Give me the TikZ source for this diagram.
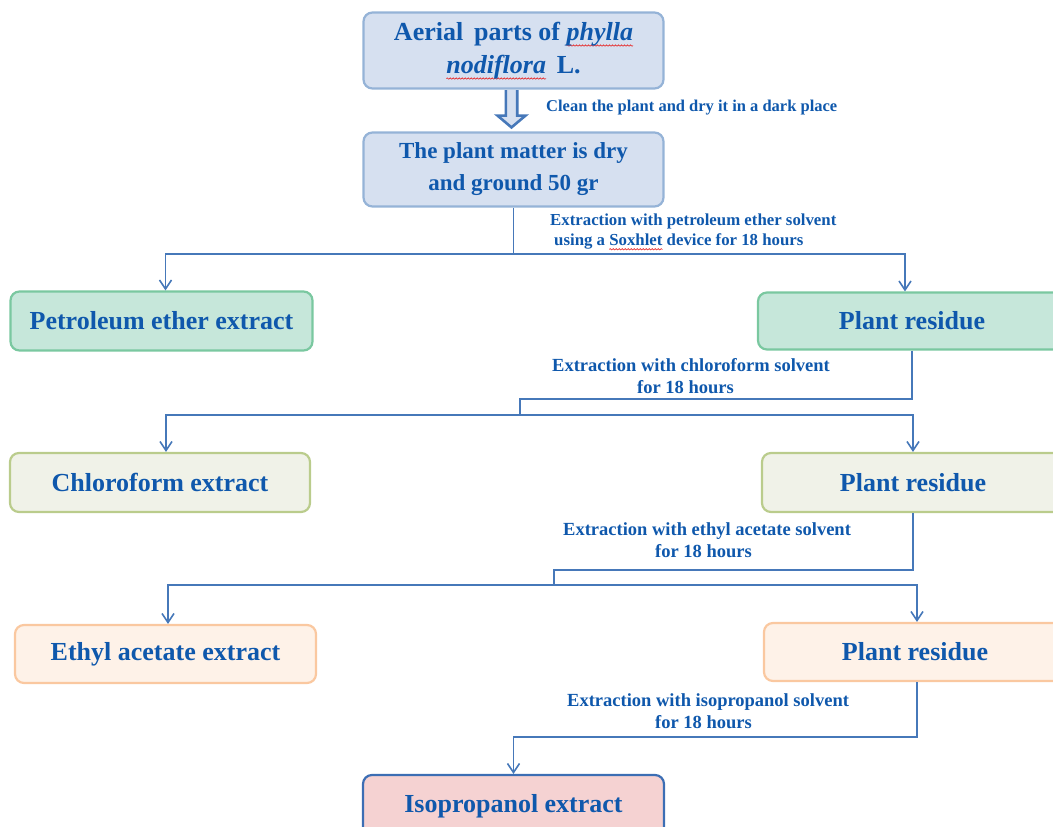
\documentclass[tikz,border=0pt]{standalone}
\usepackage{fontspec}
\setmainfont{Liberation Serif}
\usetikzlibrary{arrows.meta,calc,decorations.pathmorphing}
\definecolor{txt}{RGB}{15,88,172}
\definecolor{ln}{RGB}{70,120,185}
\definecolor{blueF}{RGB}{214,224,240}
\definecolor{blueD}{RGB}{149,179,215}
\definecolor{grnF}{RGB}{198,231,218}
\definecolor{grnD}{RGB}{122,200,160}
\definecolor{olvF}{RGB}{240,242,232}
\definecolor{olvD}{RGB}{186,204,140}
\definecolor{orgF}{RGB}{254,242,232}
\definecolor{orgD}{RGB}{250,200,160}
\definecolor{redF}{RGB}{245,210,210}
\definecolor{redD}{RGB}{60,110,180}
\definecolor{spellred}{RGB}{230,40,40}
\newsavebox\spellbox
\newcommand\spell[1]{\sbox\spellbox{#1}\tikz[overlay,baseline=0pt,sharp corners]\draw[spellred,line width=0.6pt,sharp corners,decorate,decoration={snake,amplitude=0.7pt,segment length=3pt}] (0pt,-0.2em) -- (\wd\spellbox,-0.2em);\usebox\spellbox}
\begin{document}
\begin{tikzpicture}[x=1pt,y=-1pt,
  box/.style={draw, rounded corners=9pt, line width=2.2pt, text=txt, inner sep=0pt, align=center},
  bigtxt/.style={font=\bfseries\fontsize{26}{28}\selectfont},
  lbl/.style={text=txt, inner sep=0pt, anchor=west, align=left},
  line/.style={draw=ln, line width=1.9pt},
  arr/.style={line, -{Straight Barb[length=9pt,width=12pt,line width=1.6pt]}},
  hollow/.style={draw=ln, line width=2.6pt, fill=blueF, line join=miter}]
\useasboundingbox (0,0) rectangle (1053,827);
\clip (0,0) rectangle (1053,827);

\node[box, fill=blueF, draw=blueD, minimum width=300, minimum height=76,
  font=\bfseries\fontsize{26}{33}\selectfont] (n1) at (513.5,50.5)
  {\raisebox{-3pt}{Aerial\, parts of \spell{\textit{phylla}}}\\\raisebox{-3pt}{\spell{\textit{nodiflora}}\, L.}};
\node[box, fill=blueF, draw=blueD, minimum width=300, minimum height=74,
  font=\bfseries\fontsize{23}{32}\selectfont] (n2) at (513.5,169.5)
  {The plant matter is dry\\and ground 50 gr};

\node[box, bigtxt, fill=grnF, draw=grnD, minimum width=302, minimum height=59] (pe) at (161.5,321) {Petroleum ether extract};
\node[box, bigtxt, fill=grnF, draw=grnD, minimum width=308, minimum height=57] (pr1) at (912,321) {Plant residue};

\node[box, bigtxt, fill=olvF, draw=olvD, minimum width=300, minimum height=59] (cf) at (160,482.5) {Chloroform extract};
\node[box, bigtxt, fill=olvF, draw=olvD, minimum width=302, minimum height=59] (pr2) at (913,482.5) {Plant residue};

\node[box, bigtxt, fill=orgF, draw=orgD, minimum width=301, minimum height=58] (ea) at (165.5,654) {Ethyl acetate extract};
\node[box, bigtxt, fill=orgF, draw=orgD, minimum width=302, minimum height=58] (pr3) at (915,652) {Plant residue};

\node[box, bigtxt, fill=redF, draw=redD, minimum width=301, minimum height=62] (ip) at (513.5,806) {Isopropanol extract};

% labels
\node[lbl, font=\bfseries\fontsize{16.5}{20}\selectfont] (l0) at (546,108) {Clean the plant and dry it in a dark place};
\node[lbl, font=\bfseries\fontsize{16.8}{20}\selectfont] (l1) at (550,232)
  {Extraction with petroleum ether solvent\\\hspace*{4pt}using a \spell{Soxhlet} device for 18 hours};
\node[lbl, font=\bfseries\fontsize{18.5}{22}\selectfont] (l2) at (552,376)
  {Extraction with chloroform solvent\\\hspace*{85pt}for 18 hours};
\node[lbl, font=\bfseries\fontsize{18.5}{22}\selectfont] (l3) at (563,540)
  {Extraction with ethyl acetate solvent\\\hspace*{92pt}for 18 hours};
\node[lbl, font=\bfseries\fontsize{18.5}{22}\selectfont] (l4) at (567,711)
  {Extraction with isopropanol solvent\\\hspace*{88pt}for 18 hours};

% hollow arrow
\draw[hollow] ($(n1.south)+(-7.7,0.5)$) -- ($(n1.south)+(-7.7,26)$) -- ($(n1.south)+(-16,26)$)
  -- ($(n2.north)+(-2,-4)$) -- ($(n1.south)+(12,26)$) -- ($(n1.south)+(3.7,26)$) -- ($(n1.south)+(3.7,0.5)$);

% connectors
\coordinate (j1) at (513.5,254);
\draw[line] (n2.south) -- (j1);
\draw[arr] (j1) -| ([xshift=4pt]pe.north);
\draw[arr] (j1) -| ([xshift=-7pt]pr1.north);

\coordinate (j2) at (520,415);
\draw[line] (pr1.south) -- ++(0,48) -| (j2);
\draw[arr] (j2) -| ([xshift=6pt]cf.north);
\draw[arr] (j2) -| (pr2.north);

\coordinate (j3) at (554,585);
\draw[line] (pr2.south) -- ++(0,57) -| (j3);
\draw[arr] (j3) -| ([xshift=2.5pt]ea.north);
\draw[arr] (j3) -| ([xshift=2pt]pr3.north);

\draw[arr] ([xshift=2pt]pr3.south) -- ++(0,55) -| (ip.north);
\end{tikzpicture}
\end{document}
